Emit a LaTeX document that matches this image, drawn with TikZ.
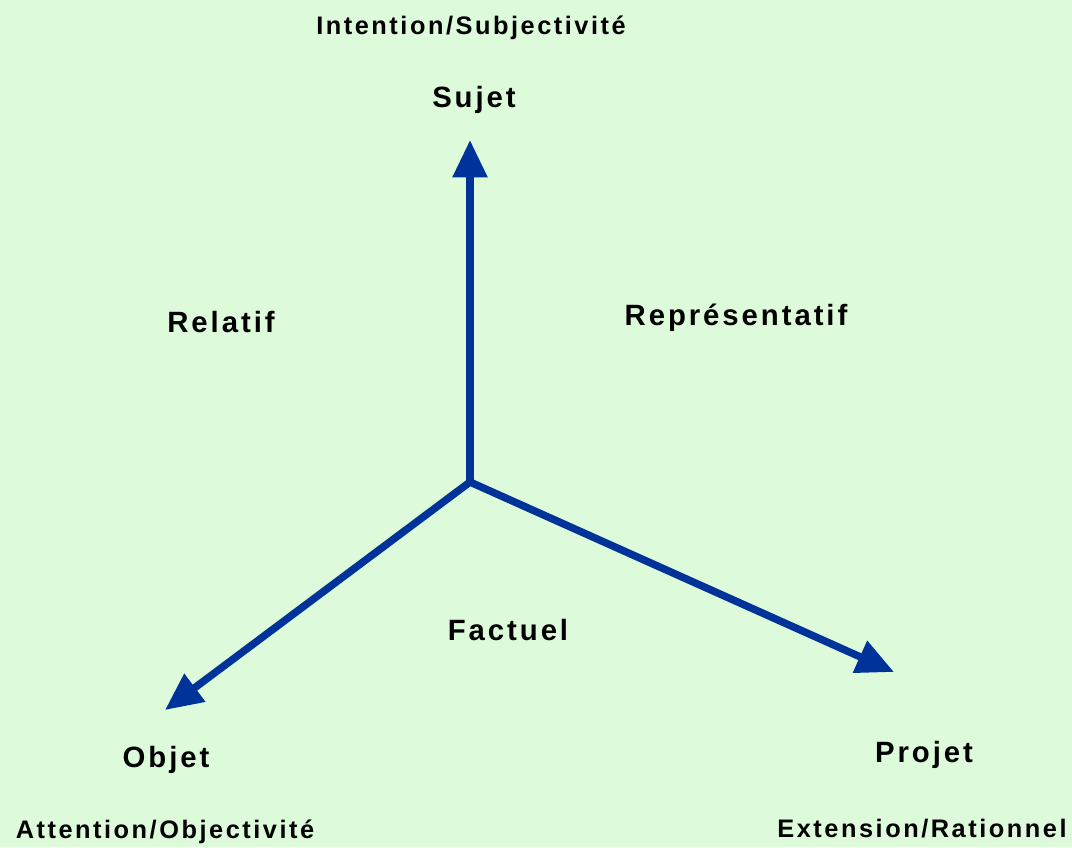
\documentclass[tikz,border=0pt]{standalone}
\usepackage{fontspec}
\setmainfont{Liberation Sans}[LetterSpace=10]
\usetikzlibrary{arrows.meta}
\definecolor{bg}{RGB}{221,250,218}
\definecolor{axis}{RGB}{0,51,153}
\tikzset{
  axisarrow/.style={draw=axis, line width=5.6pt, line cap=butt,
    -{Triangle[length=28pt,width=25pt]}},
  mainlabel/.style={font=\bfseries\fontsize{22}{26}\selectfont, inner sep=0pt},
  sublabel/.style={font=\bfseries\fontsize{19}{23}\selectfont, inner sep=0pt}
}
\begin{document}
\begin{tikzpicture}[x=0.75pt,y=-0.75pt]
\fill[bg] (0,0) rectangle (1072,847);
\useasboundingbox (0,0) rectangle (1072,847);
\coordinate (O) at (470,482);
\coordinate (S) at (470,140);
\coordinate (Ob) at (165,710);
\coordinate (P) at (894,672);
\draw[axisarrow] (O) -- (S);
\draw[axisarrow] (O) -- (Ob);
\draw[axisarrow] (O) -- (P);
\node[sublabel] (intention) at (471,28) {Intention/Subjectivité};
\node[mainlabel] (sujet) at (474,100) {Sujet};
\node[mainlabel] (relatif) at (221,322) {Relatif};
\node[mainlabel] (repr) at (736,318) {Représentatif};
\node[mainlabel] (factuel) at (508,630) {Factuel};
\node[mainlabel] (objet) at (166,760) {Objet};
\node[mainlabel] (projet) at (924,755) {Projet};
\node[sublabel] (attention) at (165,832) {Attention/Objectivité};
\node[sublabel] (extension) at (922,829) {Extension/Rationnel};
\end{tikzpicture}
\end{document}
